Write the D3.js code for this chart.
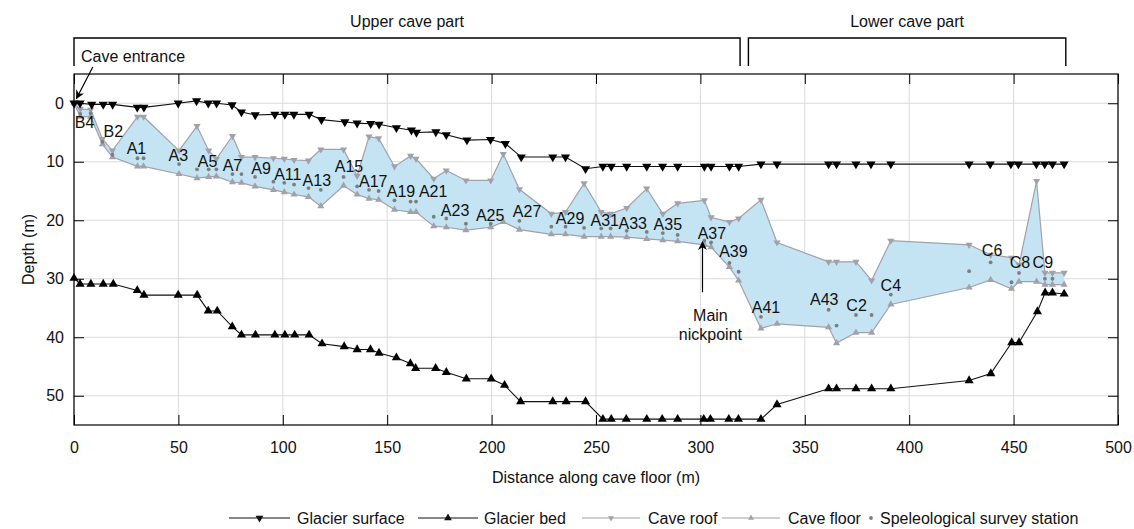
<!DOCTYPE html>
<html>
<head>
<meta charset="utf-8">
<script src="https://cdn.jsdelivr.net/npm/d3@7"></script>
<style>
  body { margin: 0; background: #fff; }
  svg { font-family: "Liberation Sans", Arial, sans-serif; }
</style>
</head>
<body>
<div id="chart"></div>
<script>
// glacier surface (distance m, depth m)
var surfDist  = [0, 2.9, 8.5, 14, 18.5, 30.3, 33.5, 49.9, 58.7, 64.3, 68.3, 75.7, 80.2, 86.8, 96.2, 101, 105.3, 112.6, 118.5, 129.7, 135.6, 142.1, 146.1, 154.4, 161.6, 164, 173.3, 178.3, 188.2, 199.5, 206.6, 214.2, 229.3, 235.4, 245, 253.3, 257.3, 264.7, 274.3, 281.9, 289.1, 301.9, 305.1, 313.9, 318.3, 329, 336.7, 361.4, 365.2, 374.5, 381.7, 391.2, 428.7, 438.8, 448.7, 452.3, 460.9, 464.9, 468.6, 474.2];
var surfDepth = [0, 0, 0.2, 0.2, 0.2, 0.7, 0.7, 0, -0.4, 0, 0, 0.3, 1.5, 2.0, 1.9, 1.9, 1.9, 1.9, 2.8, 3.2, 3.4, 3.5, 3.6, 4.2, 4.6, 5.0, 4.9, 5.4, 6.3, 6.2, 6.9, 9.2, 9.2, 9.2, 11.2, 10.8, 10.8, 10.8, 10.8, 10.8, 10.8, 10.8, 10.8, 10.8, 10.8, 10.4, 10.4, 10.4, 10.4, 10.4, 10.4, 10.4, 10.4, 10.4, 10.4, 10.4, 10.4, 10.4, 10.4, 10.4];

// glacier bed
var bedDist  = [0, 2.9, 8.1, 14, 18.8, 30.3, 33.5, 49.9, 59, 64.3, 68.6, 75.8, 80.2, 86.9, 96.2, 101, 105.7, 112.6, 118.8, 129.4, 135.6, 142, 146.1, 154.4, 161.1, 163.6, 173.2, 178.3, 187.9, 199.8, 206.2, 213.9, 229.3, 235.7, 245, 253.3, 257.3, 264.5, 274.3, 281.7, 289.1, 301.6, 304.8, 313.6, 318.2, 329, 336.7, 361.4, 365.2, 374.5, 382, 391.2, 428.7, 439.1, 449.1, 452.6, 461.4, 465.1, 468.6, 474.2];
var bedDepth = [29.9, 30.9, 30.9, 30.9, 30.9, 32.0, 32.8, 32.8, 32.8, 35.5, 35.5, 38.2, 39.6, 39.6, 39.6, 39.6, 39.6, 39.6, 41.1, 41.6, 42.1, 42.1, 42.7, 43.5, 44.5, 45.3, 45.3, 46.0, 47.1, 47.1, 48.2, 51.0, 51.0, 51.0, 51.0, 54.0, 54.0, 54.0, 54.0, 54.0, 54.0, 54.0, 54.0, 54.0, 54.0, 54.0, 51.5, 48.8, 48.8, 48.8, 48.8, 48.8, 47.4, 46.2, 40.9, 40.9, 35.6, 32.4, 32.4, 32.6];

// cave roof and floor
var caveDist   = [0, 3, 8, 13.6, 18.4, 30.4, 33.3, 50.3, 58.9, 64.5, 68.2, 75.9, 80.2, 86.7, 95.5, 100.7, 105.4, 112.3, 118.2, 129.1, 135.6, 141.3, 145.9, 153.5, 161.2, 163.8, 172.3, 178.3, 187.7, 199.6, 205.6, 213.3, 228.6, 235.4, 244.3, 252.5, 257, 264.7, 274.3, 282, 289.1, 301.9, 305.1, 313.9, 318.3, 329, 336.7, 361.4, 365.2, 374.5, 382, 391.2, 428.7, 439, 449, 452.6, 461, 465, 468.6, 474.2];
var roofDepth  = [0, 1.0, 1.1, 6.1, 8.1, 2.3, 2.3, 8.1, 3.9, 8.1, 9.5, 5.6, 9.2, 9.2, 9.4, 9.5, 9.7, 9.8, 7.9, 7.9, 12.4, 5.7, 6.0, 10.8, 9.0, 9.5, 12.9, 11.5, 13.2, 13.2, 8.7, 14.7, 18.9, 18.6, 13.7, 18.6, 18.9, 17.9, 14.6, 18.9, 17.1, 16.6, 19.5, 20.3, 19.7, 16.5, 23.8, 27.1, 27.1, 27.1, 30.3, 23.5, 24.2, 25.9, 26.4, 27.6, 13.3, 29.0, 29.0, 29.0];
var floorDepth = [0, 2.3, 2.3, 7.0, 9.2, 10.8, 10.8, 12.1, 12.8, 12.6, 12.5, 13.5, 13.6, 14.2, 14.8, 15.2, 15.6, 16.0, 17.6, 14.1, 15.6, 16.3, 16.5, 18.2, 18.6, 18.6, 21.0, 21.2, 21.7, 21.2, 20.3, 21.6, 22.4, 22.4, 22.8, 22.8, 22.8, 22.9, 23.2, 23.4, 23.6, 24.2, 24.6, 28.0, 30.3, 38.5, 37.7, 38.3, 41.0, 39.2, 39.2, 34.4, 31.5, 30.2, 31.7, 30.5, 30.5, 31.0, 31.0, 31.0];

// speleological survey stations
var stationDist  = [3, 8, 13.6, 18.4, 30.4, 33.3, 50.3, 58.9, 64.5, 68.2, 75.9, 80.2, 86.7, 95.5, 100.7, 105.4, 112.3, 118.2, 129.1, 135.6, 141.3, 145.9, 153.5, 161.2, 163.8, 172.3, 178.3, 187.7, 199.6, 213.3, 228.6, 235.4, 244.3, 252.5, 257, 264.7, 274.3, 282, 289.1, 301.9, 305.1, 313.9, 318.3, 329, 361.4, 365.2, 374.5, 382, 391.2, 428.7, 439, 449, 452.6, 465, 468.6];
var stationDepth = [1.8, 1.7, 6.6, 8.8, 9.4, 9.4, 10.4, 11.3, 11.3, 11.3, 12.1, 12.1, 12.6, 13.4, 13.6, 13.9, 14.5, 14.8, 12.6, 14.2, 14.8, 15.0, 16.6, 16.8, 16.8, 19.4, 19.7, 20.6, 20.6, 20.1, 21.1, 21.1, 21.3, 21.4, 21.4, 21.8, 22.0, 22.2, 22.5, 23.5, 23.8, 27.3, 28.8, 36.5, 35.3, 38.0, 36.2, 36.2, 32.7, 28.7, 27.2, 30.6, 29.0, 30.0, 30.0];

// station labels and where they sit (distance, depth)
var labelNames = ["B4", "B2", "A1", "A3", "A5", "A7", "A9", "A11", "A13", "A15", "A17", "A19", "A21", "A23", "A25", "A27", "A29", "A31", "A33", "A35", "A37", "A39", "A41", "A43", "C2", "C4", "C6", "C8", "C9"];
var labelDist  = [5.1, 18.8, 29.9, 50, 64, 75.9, 89.6, 102.4, 116.3, 131.7, 143.3, 156.6, 172, 182.5, 199.3, 217, 237.6, 254.2, 267.6, 284.4, 305.5, 315.8, 331.4, 359.3, 374.8, 391.2, 439.7, 453, 464];
var labelDepth = [3.3, 4.9, 7.7, 9.0, 10.0, 10.7, 11.2, 12.1, 13.2, 10.8, 13.4, 15.1, 15.1, 18.3, 19.2, 18.5, 19.7, 20.0, 20.6, 20.7, 22.2, 25.3, 34.9, 33.6, 34.6, 31.2, 25.2, 27.2, 27.2];

var xTicks = [0, 50, 100, 150, 200, 250, 300, 350, 400, 450, 500];
var yTicks = [0, 10, 20, 30, 40, 50];

var margin = {top: 74, left: 74},
    width = 1044,
    height = 351;

var svg = d3.select("#chart").append("svg")
    .attr("width", 1134)
    .attr("height", 529);

var g = svg.append("g")
    .attr("transform", `translate(${margin.left},${margin.top})`);

var x = d3.scaleLinear().domain([0, 500]).range([0, width]);
var y = d3.scaleLinear().domain([-5, 55]).range([0, height]);

// grid
g.append("g").selectAll("line").data(xTicks).enter().append("line")
    .attr("x1", d => x(d)).attr("x2", d => x(d))
    .attr("y1", 0).attr("y2", height)
    .attr("stroke", "#dadada");
g.append("g").selectAll("line").data(yTicks).enter().append("line")
    .attr("y1", d => y(d)).attr("y2", d => y(d))
    .attr("x1", 0).attr("x2", width)
    .attr("stroke", "#dadada");

// cave body
var cave = caveDist.map((d, i) => ({d: d, roof: roofDepth[i], floor: floorDepth[i]}));
var caveGrey = "#a1a1aa";

g.append("path")
    .datum(cave)
    .attr("fill", "#c4e4f3")
    .attr("d", d3.area().x(p => x(p.d)).y0(p => y(p.floor)).y1(p => y(p.roof)));

g.append("path").datum(cave)
    .attr("fill", "none").attr("stroke", caveGrey).attr("stroke-width", 1.2)
    .attr("d", d3.line().x(p => x(p.d)).y(p => y(p.roof)));
g.append("path").datum(cave)
    .attr("fill", "none").attr("stroke", caveGrey).attr("stroke-width", 1.2)
    .attr("d", d3.line().x(p => x(p.d)).y(p => y(p.floor)));

var triSmall = d3.symbol().type(d3.symbolTriangle).size(22);
var triBig = d3.symbol().type(d3.symbolTriangle).size(36);

g.append("g").selectAll("path").data(cave).enter().append("path")
    .attr("d", triSmall)
    .attr("fill", caveGrey)
    .attr("transform", p => `translate(${x(p.d)},${y(p.roof)}) rotate(180)`);
g.append("g").selectAll("path").data(cave).enter().append("path")
    .attr("d", triSmall)
    .attr("fill", caveGrey)
    .attr("transform", p => `translate(${x(p.d)},${y(p.floor)})`);

// stations
g.append("g").selectAll("circle").data(stationDist).enter().append("circle")
    .attr("cx", d => x(d))
    .attr("cy", (d, i) => y(stationDepth[i]))
    .attr("r", 1.9)
    .attr("fill", "#7d7d7d");

// glacier surface and bed
var surf = surfDist.map((d, i) => ({d: d, v: surfDepth[i]}));
var bed = bedDist.map((d, i) => ({d: d, v: bedDepth[i]}));
var line = d3.line().x(p => x(p.d)).y(p => y(p.v));

g.append("path").datum(surf)
    .attr("fill", "none").attr("stroke", "#111").attr("stroke-width", 1.1)
    .attr("d", line);
g.append("path").datum(bed)
    .attr("fill", "none").attr("stroke", "#111").attr("stroke-width", 1.1)
    .attr("d", line);

g.append("g").selectAll("path").data(surf).enter().append("path")
    .attr("d", triBig).attr("fill", "#000")
    .attr("transform", p => `translate(${x(p.d)},${y(p.v)}) rotate(180)`);
g.append("g").selectAll("path").data(bed).enter().append("path")
    .attr("d", triBig).attr("fill", "#000")
    .attr("transform", p => `translate(${x(p.d)},${y(p.v)})`);

// station labels
g.append("g").selectAll("text").data(labelNames).enter().append("text")
    .attr("x", (d, i) => x(labelDist[i]))
    .attr("y", (d, i) => y(labelDepth[i]))
    .attr("text-anchor", "middle")
    .attr("dominant-baseline", "central")
    .attr("font-size", "16px")
    .attr("fill", "#111")
    .text(d => d);

// axes (ticks pointing inwards, box all round)
var axisB = d3.axisBottom(x).tickValues(xTicks).tickSize(-10).tickPadding(17);
var axisL = d3.axisLeft(y).tickValues(yTicks).tickSize(-10).tickPadding(10);
var axisT = d3.axisTop(x).tickValues(xTicks).tickSize(-10).tickFormat("");
var axisR = d3.axisRight(y).tickValues(yTicks).tickSize(-10).tickFormat("");

[ [axisB, `translate(0,${height})`], [axisL, null], [axisT, null], [axisR, `translate(${width},0)`] ].forEach(function(a) {
    var ax = g.append("g").call(a[0]);
    if (a[1]) ax.attr("transform", a[1]);
    ax.select(".domain").remove();
    ax.selectAll("line").attr("stroke", "#000");
    ax.selectAll("text").attr("font-size", "16px").attr("fill", "#111")
        .attr("font-family", "Liberation Sans, Arial, sans-serif");
});

g.append("rect")
    .attr("width", width).attr("height", height)
    .attr("fill", "none").attr("stroke", "#000").attr("stroke-width", 1.2);

// axis titles
svg.append("text")
    .attr("x", margin.left + width / 2).attr("y", 483)
    .attr("text-anchor", "middle").attr("font-size", "16px").attr("fill", "#111")
    .text("Distance along cave floor (m)");
svg.append("text")
    .attr("transform", `translate(28,${margin.top + height / 2}) rotate(-90)`)
    .attr("text-anchor", "middle").attr("dominant-baseline", "central")
    .attr("font-size", "16px").attr("fill", "#111")
    .text("Depth (m)");

// arrows
var defs = svg.append("defs");
defs.append("marker")
    .attr("id", "arrow").attr("viewBox", "0 0 10 10")
    .attr("refX", 9).attr("refY", 5)
    .attr("markerWidth", 9).attr("markerHeight", 9)
    .attr("markerUnits", "userSpaceOnUse")
    .attr("orient", "auto")
    .append("path").attr("d", "M0,0 L10,5 L0,10 L3,5 Z").attr("fill", "#000");

// cave entrance
g.append("line")
    .attr("x1", x(9)).attr("y1", -7)
    .attr("x2", x(1.2)).attr("y2", y(-0.8))
    .attr("stroke", "#000").attr("stroke-width", 1.2)
    .attr("marker-end", "url(#arrow)");
g.append("text")
    .attr("x", 7).attr("y", -18)
    .attr("dominant-baseline", "central")
    .attr("font-size", "16px").attr("fill", "#111")
    .text("Cave entrance");

// main nickpoint
g.append("line")
    .attr("x1", x(301)).attr("y1", y(32.3))
    .attr("x2", x(301)).attr("y2", y(23.7))
    .attr("stroke", "#000").attr("stroke-width", 1.2)
    .attr("marker-end", "url(#arrow)");
g.append("text")
    .attr("x", x(304.8)).attr("y", y(36.2))
    .attr("text-anchor", "middle").attr("dominant-baseline", "central")
    .attr("font-size", "16px").attr("fill", "#111")
    .text("Main");
g.append("text")
    .attr("x", x(304.8)).attr("y", y(39.6))
    .attr("text-anchor", "middle").attr("dominant-baseline", "central")
    .attr("font-size", "16px").attr("fill", "#111")
    .text("nickpoint");

// cave part brackets
var parts = [
    {name: "Upper cave part", from: 0, to: 319},
    {name: "Lower cave part", from: 323, to: 475}
];
parts.forEach(function(p) {
    g.append("path")
        .attr("d", `M${x(p.from)},-8 V-36 H${x(p.to)} V-8`)
        .attr("fill", "none").attr("stroke", "#000").attr("stroke-width", 1.4);
    g.append("text")
        .attr("x", (x(p.from) + x(p.to)) / 2).attr("y", -53)
        .attr("text-anchor", "middle").attr("dominant-baseline", "central")
        .attr("font-size", "16px").attr("fill", "#111")
        .text(p.name);
});

// legend
var ly = 518;
var legend = svg.append("g");
function legendLine(x0, x1, color, sym, rot) {
    legend.append("line")
        .attr("x1", x0).attr("x2", x1).attr("y1", ly).attr("y2", ly)
        .attr("stroke", color).attr("stroke-width", 1.2);
    legend.append("path")
        .attr("d", sym).attr("fill", color)
        .attr("transform", `translate(${(x0 + x1) / 2},${ly}) rotate(${rot})`);
}
function legendText(tx, txt) {
    legend.append("text")
        .attr("x", tx).attr("y", ly)
        .attr("dominant-baseline", "central")
        .attr("font-size", "16px").attr("fill", "#111")
        .text(txt);
}
legendLine(229, 290, "#111", d3.symbol().type(d3.symbolTriangle).size(26)(), 180);
legendText(297, "Glacier surface");
legendLine(418, 478, "#111", d3.symbol().type(d3.symbolTriangle).size(26)(), 0);
legendText(484, "Glacier bed");
legendLine(582, 640, caveGrey, d3.symbol().type(d3.symbolTriangle).size(16)(), 180);
legendText(648, "Cave roof");
legendLine(722, 780, caveGrey, d3.symbol().type(d3.symbolTriangle).size(16)(), 0);
legendText(788, "Cave floor");
legend.append("circle").attr("cx", 871).attr("cy", ly).attr("r", 1.9).attr("fill", "#7d7d7d");
legendText(880, "Speleological survey station");
</script>
</body>
</html>
